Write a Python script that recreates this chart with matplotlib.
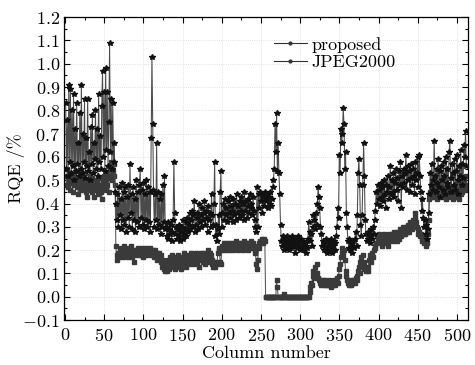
import numpy as np
import matplotlib
matplotlib.use('Agg')
import matplotlib.pyplot as plt
from matplotlib.lines import Line2D
from matplotlib.ticker import MultipleLocator, FuncFormatter

# RQE per column (columns 1..512)
jpeg2000 = [
    # 1-64
    0.83, 0.55, 0.76, 0.52, 0.91, 0.58, 0.89, 0.53, 0.80, 0.56, 0.87, 0.50, 0.72, 0.54, 0.83, 0.57,
    0.66, 0.52, 0.79, 0.55, 0.91, 0.53, 0.70, 0.58, 0.85, 0.51, 0.68, 0.56, 0.85, 0.54, 0.62, 0.50,
    0.73, 0.57, 0.78, 0.53, 0.66, 0.59, 0.80, 0.55, 0.72, 0.52, 0.87, 0.58, 0.69, 0.55, 0.82, 0.97,
    0.60, 0.88, 0.54, 0.98, 0.63, 0.88, 0.56, 0.75, 1.09, 0.62, 0.85, 0.55, 0.83, 0.58, 0.66, 0.45,
    # 65-128
    0.40, 0.33, 0.44, 0.30, 0.47, 0.35, 0.42, 0.29, 0.49, 0.33, 0.45, 0.31, 0.47, 0.28, 0.43, 0.34,
    0.48, 0.30, 0.57, 0.36, 0.44, 0.29, 0.47, 0.33, 0.42, 0.28, 0.50, 0.32, 0.45, 0.30, 0.48, 0.55,
    0.34, 0.46, 0.31, 0.49, 0.29, 0.44, 0.33, 0.50, 0.30, 0.47, 0.32, 0.45, 0.28, 0.68, 1.03, 0.74,
    0.46, 0.30, 0.44, 0.33, 0.66, 0.29, 0.45, 0.31, 0.42, 0.27, 0.44, 0.30, 0.48, 0.32, 0.52, 0.29,
    # 129-192
    0.30, 0.26, 0.32, 0.25, 0.29, 0.27, 0.31, 0.24, 0.28, 0.33, 0.58, 0.36, 0.27, 0.30, 0.25, 0.29,
    0.26, 0.31, 0.24, 0.28, 0.30, 0.25, 0.33, 0.27, 0.29, 0.32, 0.26, 0.34, 0.28, 0.31, 0.36, 0.29,
    0.33, 0.37, 0.30, 0.35, 0.41, 0.28, 0.31, 0.34, 0.36, 0.29, 0.40, 0.32, 0.35, 0.30, 0.38, 0.33,
    0.36, 0.41, 0.31, 0.37, 0.34, 0.28, 0.39, 0.33, 0.36, 0.30, 0.44, 0.35, 0.31, 0.40, 0.58, 0.26,
    # 193-256
    0.31, 0.24, 0.29, 0.35, 0.27, 0.45, 0.54, 0.30, 0.36, 0.40, 0.33, 0.42, 0.35, 0.38, 0.32, 0.41,
    0.36, 0.43, 0.34, 0.39, 0.37, 0.32, 0.42, 0.35, 0.40, 0.33, 0.44, 0.36, 0.39, 0.34, 0.41, 0.37,
    0.43, 0.35, 0.40, 0.33, 0.45, 0.37, 0.41, 0.34, 0.39, 0.42, 0.36, 0.44, 0.38, 0.40, 0.35, 0.43,
    0.37, 0.33, 0.30, 0.28, 0.47, 0.30, 0.44, 0.38, 0.45, 0.41, 0.44, 0.36, 0.43, 0.39, 0.45, 0.42,
    # 257-320
    0.41, 0.44, 0.38, 0.43, 0.40, 0.45, 0.39, 0.42, 0.47, 0.50, 0.55, 0.74, 0.62, 0.79, 0.54, 0.66,
    0.53, 0.44, 0.31, 0.24, 0.22, 0.26, 0.20, 0.25, 0.23, 0.21, 0.26, 0.22, 0.24, 0.20, 0.25, 0.23,
    0.21, 0.26, 0.22, 0.24, 0.19, 0.25, 0.23, 0.21, 0.26, 0.22, 0.24, 0.20, 0.25, 0.22, 0.21, 0.24,
    0.20, 0.23, 0.19, 0.22, 0.21, 0.25, 0.32, 0.28, 0.24, 0.27, 0.22, 0.30, 0.35, 0.33, 0.29, 0.36,
    # 321-384
    0.31, 0.40, 0.47, 0.43, 0.38, 0.30, 0.27, 0.22, 0.24, 0.20, 0.23, 0.21, 0.25, 0.19, 0.22, 0.24,
    0.20, 0.23, 0.21, 0.25, 0.19, 0.22, 0.24, 0.20, 0.23, 0.26, 0.30, 0.38, 0.34, 0.61, 0.53, 0.72,
    0.66, 0.70, 0.81, 0.74, 0.55, 0.62, 0.36, 0.30, 0.24, 0.21, 0.25, 0.20, 0.23, 0.19, 0.22, 0.24,
    0.21, 0.25, 0.28, 0.22, 0.35, 0.53, 0.59, 0.48, 0.31, 0.26, 0.35, 0.48, 0.66, 0.52, 0.33, 0.27,
    # 385-448
    0.24, 0.28, 0.25, 0.27, 0.23, 0.26, 0.29, 0.25, 0.30, 0.27, 0.33, 0.37, 0.45, 0.40, 0.48, 0.42,
    0.46, 0.39, 0.49, 0.43, 0.47, 0.41, 0.50, 0.44, 0.38, 0.48, 0.45, 0.52, 0.42, 0.47, 0.56, 0.44,
    0.50, 0.45, 0.53, 0.43, 0.49, 0.55, 0.46, 0.51, 0.41, 0.54, 0.48, 0.58, 0.38, 0.52, 0.47, 0.55,
    0.49, 0.53, 0.61, 0.46, 0.56, 0.50, 0.54, 0.45, 0.57, 0.51, 0.48, 0.55, 0.52, 0.44, 0.58, 0.50,
    # 449-512
    0.53, 0.60, 0.47, 0.61, 0.52, 0.45, 0.37, 0.42, 0.34, 0.30, 0.33, 0.27, 0.31, 0.25, 0.29, 0.36,
    0.44, 0.53, 0.48, 0.57, 0.50, 0.46, 0.67, 0.52, 0.45, 0.55, 0.49, 0.59, 0.47, 0.54, 0.43, 0.56,
    0.50, 0.46, 0.58, 0.52, 0.44, 0.60, 0.49, 0.55, 0.47, 0.62, 0.67, 0.51, 0.45, 0.57, 0.53, 0.48,
    0.59, 0.46, 0.54, 0.61, 0.50, 0.44, 0.56, 0.52, 0.63, 0.48, 0.57, 0.51, 0.65, 0.60, 0.71, 0.56,
]

proposed = [
    # 1-64
    0.52, 0.48, 0.55, 0.47, 0.50, 0.53, 0.46, 0.49, 0.51, 0.45, 0.52, 0.48, 0.50, 0.54, 0.47, 0.49,
    0.44, 0.50, 0.48, 0.52, 0.46, 0.49, 0.51, 0.47, 0.48, 0.53, 0.45, 0.43, 0.50, 0.48, 0.46, 0.52,
    0.49, 0.45, 0.51, 0.47, 0.43, 0.48, 0.50, 0.46, 0.49, 0.44, 0.47, 0.51, 0.48, 0.45, 0.42, 0.50,
    0.47, 0.52, 0.49, 0.46, 0.53, 0.48, 0.51, 0.45, 0.55, 0.52, 0.58, 0.50, 0.54, 0.57, 0.52, 0.48,
    # 65-128
    0.22, 0.16, 0.18, 0.19, 0.17, 0.20, 0.18, 0.21, 0.19, 0.17, 0.20, 0.22, 0.18, 0.19, 0.21, 0.17,
    0.19, 0.20, 0.18, 0.22, 0.19, 0.17, 0.20, 0.15, 0.19, 0.18, 0.20, 0.19, 0.21, 0.18, 0.19, 0.20,
    0.18, 0.21, 0.19, 0.17, 0.20, 0.18, 0.19, 0.21, 0.20, 0.18, 0.19, 0.20, 0.21, 0.19, 0.18, 0.20,
    0.19, 0.17, 0.20, 0.18, 0.19, 0.16, 0.18, 0.19, 0.17, 0.15, 0.18, 0.13, 0.16, 0.12, 0.14, 0.11,
    # 129-192
    0.14, 0.11, 0.16, 0.13, 0.12, 0.17, 0.15, 0.13, 0.18, 0.14, 0.16, 0.12, 0.17, 0.15, 0.14, 0.18,
    0.16, 0.13, 0.15, 0.12, 0.17, 0.14, 0.16, 0.19, 0.15, 0.13, 0.17, 0.15, 0.18, 0.16, 0.14, 0.17,
    0.19, 0.16, 0.15, 0.18, 0.14, 0.17, 0.19, 0.16, 0.15, 0.18, 0.13, 0.17, 0.19, 0.16, 0.18, 0.15,
    0.17, 0.19, 0.14, 0.18, 0.16, 0.20, 0.17, 0.15, 0.19, 0.18, 0.16, 0.14, 0.13, 0.15, 0.14, 0.13,
    # 193-256
    0.15, 0.14, 0.19, 0.21, 0.20, 0.15, 0.14, 0.20, 0.22, 0.21, 0.23, 0.20, 0.22, 0.21, 0.23, 0.22,
    0.20, 0.22, 0.23, 0.21, 0.22, 0.20, 0.23, 0.21, 0.22, 0.24, 0.21, 0.22, 0.20, 0.23, 0.22, 0.21,
    0.23, 0.22, 0.20, 0.22, 0.24, 0.21, 0.23, 0.22, 0.20, 0.23, 0.21, 0.22, 0.24, 0.22, 0.21, 0.23,
    0.22, 0.20, 0.19, 0.14, 0.12, 0.16, 0.21, 0.23, 0.24, 0.23, 0.25, 0.24, 0.23, 0.25, 0.24, 0.00,
    # 257-320
    0.00, 0.00, 0.00, 0.00, 0.00, 0.00, 0.00, 0.00, 0.00, 0.00, 0.00, 0.00, 0.00, 0.07, 0.04, 0.00,
    0.00, 0.00, 0.00, 0.00, 0.00, 0.00, 0.00, 0.01, 0.00, 0.00, 0.00, 0.00, 0.00, 0.00, 0.00, 0.00,
    0.00, 0.00, 0.00, 0.00, 0.00, 0.00, 0.00, 0.00, 0.00, 0.00, 0.00, 0.00, 0.00, 0.00, 0.00, 0.00,
    0.00, 0.00, 0.00, 0.00, 0.00, 0.00, 0.00, 0.02, 0.04, 0.06, 0.05, 0.09, 0.11, 0.08, 0.13, 0.10,
    # 321-384
    0.14, 0.10, 0.08, 0.07, 0.06, 0.07, 0.05, 0.06, 0.07, 0.05, 0.06, 0.07, 0.05, 0.06, 0.06, 0.05,
    0.07, 0.05, 0.06, 0.04, 0.06, 0.05, 0.07, 0.06, 0.05, 0.07, 0.08, 0.06, 0.09, 0.12, 0.14, 0.17,
    0.19, 0.21, 0.18, 0.20, 0.16, 0.11, 0.09, 0.07, 0.06, 0.05, 0.06, 0.07, 0.05, 0.06, 0.07, 0.06,
    0.07, 0.06, 0.08, 0.07, 0.09, 0.11, 0.13, 0.10, 0.15, 0.17, 0.14, 0.18, 0.15, 0.12, 0.13, 0.11,
    # 385-448
    0.12, 0.11, 0.13, 0.16, 0.18, 0.17, 0.15, 0.19, 0.17, 0.20, 0.22, 0.21, 0.23, 0.26, 0.24, 0.27,
    0.25, 0.23, 0.26, 0.24, 0.22, 0.25, 0.27, 0.24, 0.23, 0.26, 0.25, 0.22, 0.27, 0.24, 0.26, 0.25,
    0.27, 0.24, 0.26, 0.28, 0.25, 0.27, 0.24, 0.28, 0.26, 0.25, 0.29, 0.27, 0.26, 0.28, 0.30, 0.27,
    0.29, 0.27, 0.30, 0.28, 0.31, 0.29, 0.28, 0.32, 0.30, 0.31, 0.29, 0.33, 0.31, 0.36, 0.34, 0.32,
    # 449-512
    0.30, 0.29, 0.27, 0.28, 0.26, 0.27, 0.25, 0.24, 0.26, 0.23, 0.25, 0.22, 0.24, 0.23, 0.27, 0.33,
    0.42, 0.45, 0.43, 0.47, 0.44, 0.46, 0.43, 0.48, 0.45, 0.42, 0.46, 0.44, 0.47, 0.43, 0.45, 0.48,
    0.44, 0.46, 0.43, 0.47, 0.45, 0.42, 0.46, 0.44, 0.48, 0.45, 0.43, 0.47, 0.44, 0.46, 0.42, 0.45,
    0.47, 0.43, 0.46, 0.44, 0.48, 0.45, 0.42, 0.46, 0.44, 0.49, 0.45, 0.47, 0.50, 0.46, 0.52, 0.48,
]

columns = np.arange(1, len(jpeg2000) + 1)
assert len(proposed) == len(jpeg2000) == 512, (len(proposed), len(jpeg2000))

plt.rcParams['font.family'] = 'cmr10'
plt.rcParams['mathtext.fontset'] = 'cm'
plt.rcParams['axes.formatter.use_mathtext'] = True
plt.rcParams['font.size'] = 13

fig = plt.figure(figsize=(4.75, 3.65), dpi=100)
ax = fig.add_axes([0.135, 0.123, 0.85, 0.830])

ax.plot(columns, proposed, color='#555555', lw=0.75, marker='s', ms=2.6,
        mfc='#3a3a3a', mec='#3a3a3a', zorder=2)
ax.plot(columns, jpeg2000, color='#4a4a4a', lw=0.75, marker='*', ms=4.2,
        mfc='#111111', mec='#111111', zorder=3)

ax.set_xlim(-1, 514)
ax.set_ylim(-0.1, 1.2)
ax.xaxis.set_major_locator(MultipleLocator(50))
ax.xaxis.set_minor_locator(MultipleLocator(25))
ax.yaxis.set_major_locator(MultipleLocator(0.1))
ax.yaxis.set_minor_locator(MultipleLocator(0.05))
# mathtext so the minus sign has a glyph
ax.xaxis.set_major_formatter(FuncFormatter(lambda v, p: f'${v:.0f}$'))
ax.yaxis.set_major_formatter(FuncFormatter(lambda v, p: f'${v:.1f}$'))
ax.tick_params(which='both', direction='in', top=True, right=True, width=0.8)
ax.tick_params(which='major', length=4.5, pad=3)
ax.tick_params(axis='x', which='major', pad=5)
ax.tick_params(which='minor', length=2.5)
for s in ax.spines.values():
    s.set_linewidth(0.9)
ax.grid(True, which='major', color='#d8d8d8', ls=':', lw=0.6)
ax.set_axisbelow(True)

ax.set_xlabel('Column number', labelpad=1)
ax.set_ylabel('RQE /%')
ax.yaxis.set_label_coords(-0.098, 0.5)

handles = [Line2D([], [], color='#333333', lw=0.8, marker='o', ms=2),
           Line2D([], [], color='#333333', lw=0.8, marker='o', ms=2)]
ax.legend(handles, ['proposed', 'JPEG2000'], loc='upper left',
          bbox_to_anchor=(0.52, 0.935), frameon=False, handlelength=1.8,
          handletextpad=0.25, labelspacing=0.12, borderpad=0, borderaxespad=0)

fig.savefig('out.png', dpi=100)
